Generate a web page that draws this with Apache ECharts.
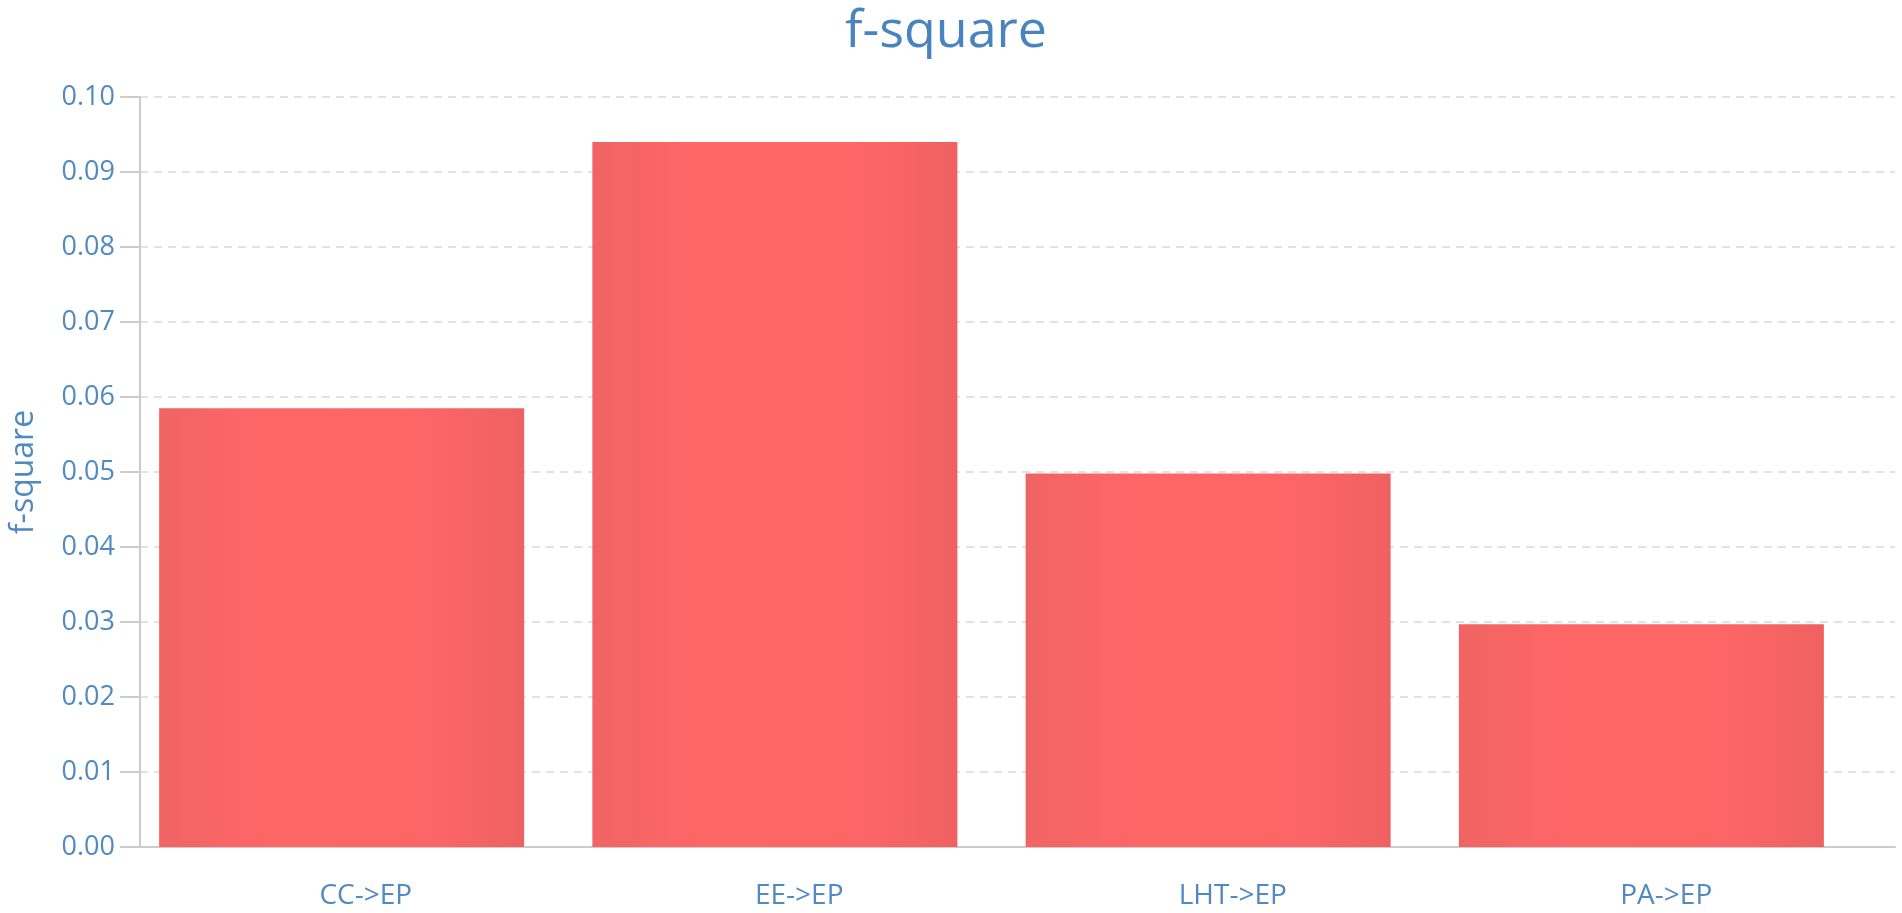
<!DOCTYPE html>
<html>
<head>
<meta charset="utf-8">
<title>f-square</title>
<script src="https://cdn.jsdelivr.net/npm/echarts@6/dist/echarts.min.js"></script>
<style>
  html, body { margin: 0; padding: 0; background: #fff; }
  #chart { width: 1902px; height: 913px; }
</style>
</head>
<body>
<div id="chart"></div>
<script>
// 数据
const categories = ['CC->EP', 'EE->EP', 'LHT->EP', 'PA->EP'];
const fSquare = [0.0585, 0.094, 0.0498, 0.0297];
const yTicks = { min: 0, max: 0.1, interval: 0.01 };

const textBlue = '#5189c2';
const fontFamily = '"Open Sans", "Noto Sans", sans-serif';

const chart = echarts.init(document.getElementById('chart'));

// 柱子横向渐变（两侧略深）
const barColor = new echarts.graphic.LinearGradient(0, 0, 1, 0, [
  { offset: 0, color: '#f06464' },
  { offset: 0.3, color: '#ff6666' },
  { offset: 0.7, color: '#fe6666' },
  { offset: 1, color: '#ef6161' }
]);

const option = {
  animation: false,
  textStyle: { fontFamily: fontFamily },
  title: {
    text: 'f-square',
    left: 840,
    top: 1,
    textStyle: { color: '#4a84bf', fontSize: 52, fontWeight: 'normal', fontFamily: fontFamily }
  },
  grid: [
    // 0: 坐标框（y轴、网格线、x轴线）
    { left: 137, right: 7, top: 97, bottom: 66 },
    // 1: 柱子
    { left: 125, right: 44, top: 97, bottom: 66 },
    // 2: x轴刻度与标签
    { left: 149, right: 19, top: 97, bottom: 66 }
  ],
  xAxis: [
    {
      gridIndex: 0,
      type: 'category',
      data: categories,
      axisLine: { lineStyle: { color: '#cccccc', width: 2 } },
      axisTick: { show: false },
      axisLabel: { show: false }
    },
    { gridIndex: 1, type: 'category', data: categories, show: false },
    {
      gridIndex: 2,
      type: 'category',
      data: categories,
      axisLine: { show: false },
      axisTick: { alignWithLabel: true, length: 20, lineStyle: { color: '#cccccc', width: 2 } },
      axisLabel: { color: textBlue, fontSize: 28, margin: 35 }
    }
  ],
  yAxis: [
    {
      gridIndex: 0,
      type: 'value',
      min: yTicks.min,
      max: yTicks.max,
      interval: yTicks.interval,
      name: 'f-square',
      nameLocation: 'middle',
      nameGap: 100,
      nameTextStyle: { color: textBlue, fontSize: 32 },
      axisLine: { show: true, lineStyle: { color: '#cccccc', width: 2 } },
      axisTick: { show: true, length: 20, lineStyle: { color: '#cccccc', width: 2 } },
      axisLabel: {
        color: textBlue,
        fontSize: 27,
        margin: 25,
        formatter: v => v.toFixed(2)
      },
      splitLine: { lineStyle: { color: '#e2e2e2', width: 2, type: [8, 6] } }
    },
    { gridIndex: 1, type: 'value', min: yTicks.min, max: yTicks.max, show: false },
    { gridIndex: 2, type: 'value', min: yTicks.min, max: yTicks.max, show: false }
  ],
  series: [{
    name: 'f-square',
    type: 'bar',
    xAxisIndex: 1,
    yAxisIndex: 1,
    barWidth: 365,
    data: fSquare,
    itemStyle: { color: barColor }
  }]
};

chart.setOption(option);

window.addEventListener('resize', () => chart.resize());
</script>
</body>
</html>
